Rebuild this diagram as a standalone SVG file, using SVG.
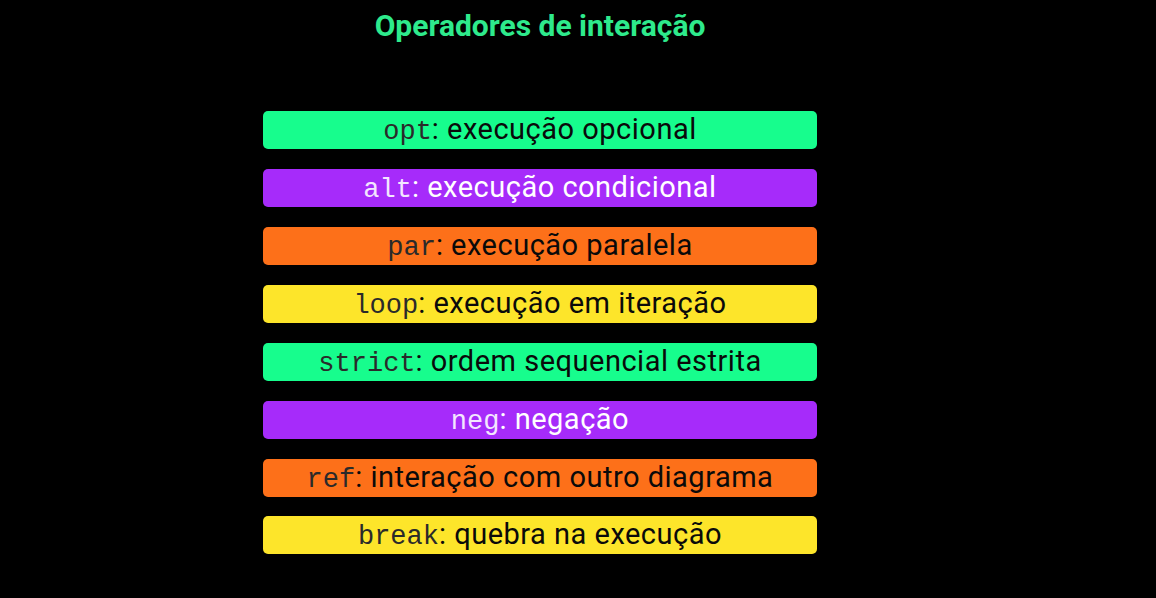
<svg xmlns="http://www.w3.org/2000/svg" width="1156" height="598" viewBox="0 0 1156 598">
<style>
.bar{stroke:none}
.g{fill:#17FD8D}.p{fill:#A62BFA}.o{fill:#FD7019}.y{fill:#FDE52A}
.t{font-family:Roboto,"Liberation Sans",sans-serif;font-size:29px;letter-spacing:0.5px;text-anchor:middle}
.m{font-family:"Liberation Mono",monospace;font-size:27px;letter-spacing:0}
.dk{fill:#0a0a0a}.dk .m{fill:#2a2a2a}
.wh{fill:#fff}.wh .m{fill:#F3E6FF}
.title{font-family:Roboto,"Liberation Sans",sans-serif;font-size:30px;font-weight:bold;fill:#2EEA8C;text-anchor:middle}
</style>
<rect width="1156" height="598" fill="#000"/>
<text class="title" x="540" y="36">Operadores de interação</text>
<g id="opt"><rect class="bar g" x="263" y="111" width="554" height="38" rx="5"/><text class="t dk" x="540" y="139"><tspan class="m">opt</tspan>: execução opcional</text></g>
<g id="alt"><rect class="bar p" x="263" y="169" width="554" height="38" rx="5"/><text class="t wh" x="540" y="197"><tspan class="m">alt</tspan>: execução condicional</text></g>
<g id="par"><rect class="bar o" x="263" y="227" width="554" height="38" rx="5"/><text class="t dk" x="540" y="255"><tspan class="m">par</tspan>: execução paralela</text></g>
<g id="loop"><rect class="bar y" x="263" y="285" width="554" height="38" rx="5"/><text class="t dk" x="540" y="313"><tspan class="m">loop</tspan>: execução em iteração</text></g>
<g id="strict"><rect class="bar g" x="263" y="343" width="554" height="38" rx="5"/><text class="t dk" x="540" y="371"><tspan class="m">strict</tspan>: ordem sequencial estrita</text></g>
<g id="neg"><rect class="bar p" x="263" y="401" width="554" height="38" rx="5"/><text class="t wh" x="540" y="429"><tspan class="m">neg</tspan>: negação</text></g>
<g id="ref"><rect class="bar o" x="263" y="459" width="554" height="38" rx="5"/><text class="t dk" x="540" y="487"><tspan class="m">ref</tspan>: interação com outro diagrama</text></g>
<g id="break"><rect class="bar y" x="263" y="516" width="554" height="38" rx="5"/><text class="t dk" x="540" y="544"><tspan class="m">break</tspan>: quebra na execução</text></g>
<g id="connectors"/>
</svg>
